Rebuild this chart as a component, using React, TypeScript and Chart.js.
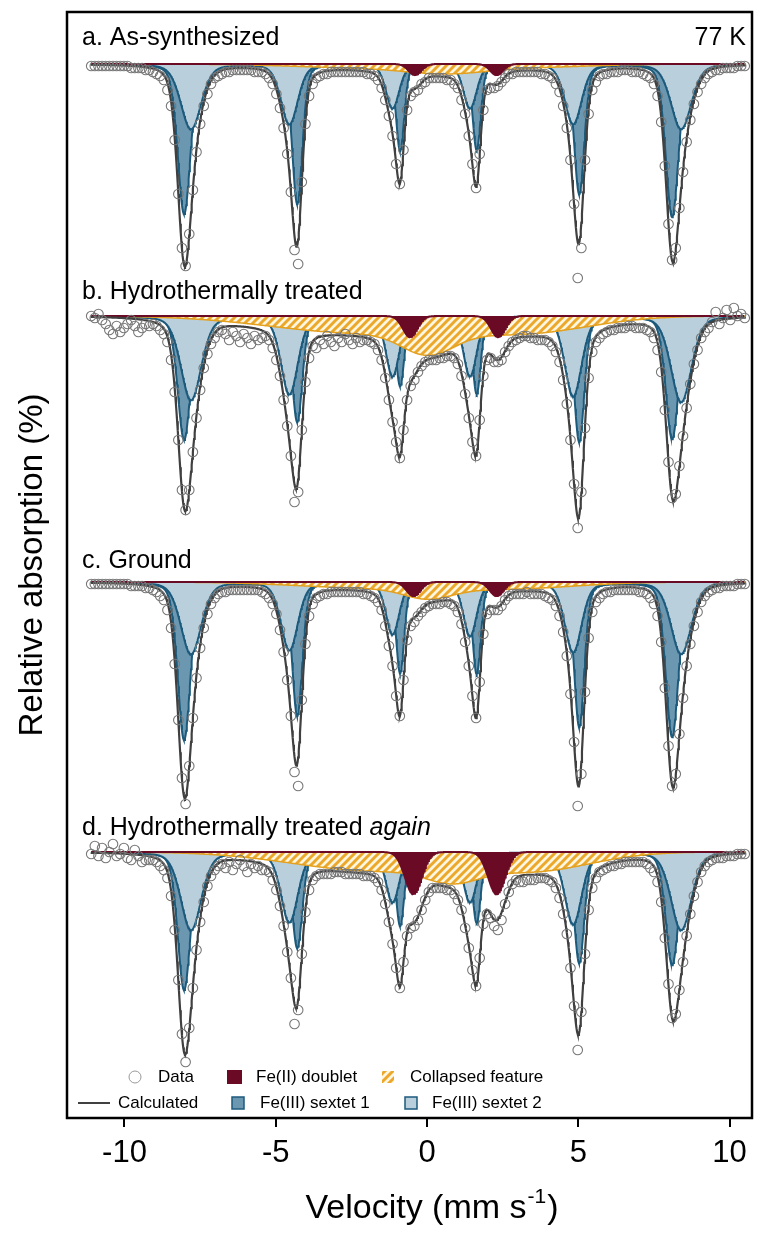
import React, { useEffect, useRef } from 'react';
import { Chart, registerables } from 'chart.js';

Chart.register(...registerables);

// ---------------- axes ----------------
const xTickValues = [-10, -5, 0, 5, 10];
const xMin = -11.9;
const xMax = 10.74;
const yMax = 2.6;
const yMin = -52.7;

// ---------------- panels ----------------
const panelNames = ['a. As-synthesized', 'b. Hydrothermally treated', 'c. Ground', 'd. Hydrothermally treated'];
const panelOffsets = [0, 12.6, 25.9, 39.4]; // vertical offset of each spectrum (%)
const temperatureLabel = '77 K';

// ---------------- measured spectra: relative absorption (0.1 % units) per channel ----------------
const channelStart = -11.1; // mm/s
const channelStep = 0.12; // mm/s per channel

const dataA = [
  1, 1, 1, 1, 1, 1, 1, 1, 1, 1, 1, 2,
  2, 2, 2, 3, 3, 4, 5, 6, 8, 13, 21, 38,
  65, 92, 101, 85, 63, 44, 30, 21, 15, 10, 7, 6,
  5, 4, 4, 3, 3, 3, 3, 3, 3, 4, 4, 4,
  5, 7, 10, 15, 22, 32, 45, 64, 93, 100, 59, 30,
  16, 10, 7, 6, 5, 5, 4, 4, 4, 4, 4, 4,
  4, 4, 4, 4, 5, 5, 6, 8, 12, 18, 26, 36,
  50, 60, 43, 23, 16, 14, 13, 10, 9, 7, 7, 7,
  7, 7, 8, 8, 10, 12, 18, 25, 36, 50, 62, 45,
  23, 13, 12, 12, 11, 9, 7, 5, 5, 4, 4, 4,
  4, 4, 4, 4, 5, 5, 6, 7, 10, 14, 21, 32,
  48, 70, 107, 92, 48, 25, 13, 9, 6, 5, 5, 4,
  4, 4, 3, 3, 3, 4, 4, 4, 5, 6, 7, 10,
  16, 29, 51, 80, 98, 92, 72, 54, 39, 28, 20, 14,
  10, 7, 5, 4, 3, 3, 2, 2, 2, 2, 1, 1,
  1,
];
const dataB = [
  0, 1, -1, 2, 4, 7, 9, 5, 8, 6, 4, 2,
  5, 8, 6, 4, 5, 4, 5, 7, 9, 13, 22, 38,
  62, 87, 97, 87, 68, 51, 37, 26, 19, 14, 11, 8,
  7, 9, 12, 8, 10, 13, 9, 11, 14, 10, 12, 11,
  10, 12, 16, 22, 30, 42, 55, 70, 93, 88, 57, 33,
  21, 15, 16, 12, 14, 10, 13, 15, 11, 13, 9, 12,
  14, 11, 13, 12, 12, 13, 14, 17, 22, 31, 42, 53,
  63, 71, 57, 42, 35, 32, 28, 25, 23, 22, 22, 22,
  21, 21, 20, 20, 21, 24, 30, 39, 51, 63, 70, 52,
  30, 22, 21, 23, 23, 22, 18, 15, 13, 12, 11, 10,
  10, 11, 11, 12, 12, 12, 13, 15, 18, 23, 32, 44,
  62, 84, 106, 88, 56, 31, 18, 13, 11, 9, 8, 7,
  7, 6, 6, 6, 5, 5, 6, 6, 6, 7, 8, 11,
  17, 28, 47, 73, 91, 89, 75, 60, 46, 34, 24, 17,
  11, 8, 6, 3, -2, 4, 1, -3, 2, -4, 0, -1,
  1,
];
const dataC = [
  1, 1, 1, 1, 1, 1, 1, 1, 1, 1, 1, 2,
  2, 2, 2, 3, 3, 4, 5, 7, 9, 14, 23, 41,
  69, 98, 111, 92, 68, 48, 33, 23, 16, 11, 8, 6,
  5, 5, 4, 4, 4, 4, 4, 4, 4, 4, 4, 5,
  6, 8, 11, 16, 24, 35, 49, 67, 95, 102, 59, 31,
  17, 11, 8, 7, 6, 6, 5, 5, 5, 5, 5, 5,
  5, 5, 5, 6, 6, 7, 8, 10, 14, 22, 32, 42,
  57, 67, 49, 29, 22, 20, 17, 15, 13, 12, 11, 11,
  11, 10, 10, 11, 12, 15, 21, 30, 42, 57, 68, 50,
  26, 16, 14, 14, 14, 12, 9, 7, 6, 6, 6, 6,
  5, 6, 6, 6, 6, 7, 8, 9, 12, 17, 25, 37,
  56, 80, 112, 96, 55, 28, 15, 10, 8, 6, 5, 5,
  4, 4, 4, 4, 4, 4, 4, 5, 5, 6, 8, 11,
  17, 30, 53, 82, 102, 96, 76, 58, 42, 31, 22, 15,
  10, 7, 5, 4, 3, 3, 2, 2, 2, 2, 1, 1,
  1,
];
const dataD = [
  1, -3, 2, -2, 3, 0, -4, 2, 1, -2, 3, 4,
  -1, 2, 5, 4, 4, 4, 5, 7, 9, 13, 22, 39,
  64, 91, 105, 88, 68, 49, 35, 25, 17, 12, 9, 7,
  6, 8, 5, 9, 6, 4, 7, 10, 6, 8, 7, 9,
  9, 10, 14, 19, 27, 37, 50, 63, 86, 79, 51, 30,
  19, 14, 12, 11, 11, 11, 11, 10, 10, 10, 11, 11,
  11, 11, 11, 12, 12, 12, 13, 15, 19, 26, 35, 46,
  58, 68, 55, 42, 38, 37, 34, 29, 24, 20, 18, 18,
  18, 18, 19, 19, 21, 24, 29, 38, 48, 59, 67, 53,
  36, 31, 33, 37, 39, 34, 26, 20, 16, 14, 15, 15,
  14, 14, 14, 13, 13, 13, 14, 15, 18, 23, 31, 41,
  58, 77, 99, 80, 51, 29, 18, 13, 10, 9, 8, 7,
  7, 6, 6, 5, 5, 5, 5, 5, 5, 6, 8, 10,
  15, 25, 43, 66, 83, 81, 69, 55, 42, 31, 22, 15,
  10, 7, 5, 4, 3, 3, 3, 2, 2, 2, 1, 1,
  1,
];

// ---------------- fitted Fe(III) sextets: line positions (mm/s), half widths, depths (%) ----------------
const sextet1Positions = [-8.03, -4.29, -0.89, 1.64, 5.03, 8.1];
const sextet2Positions = [-7.8, -4.55, -1.14, 1.42, 4.83, 8.4];
const sextet1Widths = [0.25, 0.2, 0.16, 0.16, 0.2, 0.25];
const sextet2Widths = [0.4, 0.33, 0.26, 0.26, 0.33, 0.4];
const lorentzFraction = 0.3;

const sextet1DepthA = [7.5, 7.0, 4.35, 4.3, 6.5, 7.65];
const sextet2DepthA = [3.25, 3.0, 2.2, 2.2, 3.0, 3.25];
const sextet1DepthB = [6.2, 5.3, 3.5, 3.9, 6.3, 6.15];
const sextet2DepthB = [4.2, 3.9, 3.0, 3.0, 4.0, 4.3];
const sextet1DepthC = [7.9, 6.7, 4.55, 4.6, 7.25, 7.75];
const sextet2DepthC = [3.6, 3.4, 2.6, 2.7, 3.5, 3.6];
const sextet1DepthD = [6.9, 4.8, 3.7, 3.55, 5.55, 5.65];
const sextet2DepthD = [3.9, 3.5, 2.5, 2.5, 3.6, 3.9];

// ---------------- fitted Fe(II) doublet ----------------
const doubletPosA = [-0.4, 2.3];
const doubletPosB = [-0.56, 2.35];
const doubletPosC = [-0.45, 2.3];
const doubletPosD = [-0.45, 2.3];
const doubletDepths = [0.55, 1.05, 0.7, 2.1];
const doubletWidths = [0.25, 0.28, 0.27, 0.33];

// ---------------- fitted collapsed feature (broad components) ----------------
const collapsedPosA = [0.63, -1.67, 3.33];
const collapsedDepthA = [0.3, 0.2, 0.15];
const collapsedWidthA = [1.5, 3.0, 2.5];
const collapsedPosB = [0.03, -2.17, 3.33];
const collapsedDepthB = [1.1, 0.85, 0.75];
const collapsedWidthB = [1.0, 3.5, 2.5];
const collapsedPosC = [0.03, -1.67, 2.83];
const collapsedDepthC = [0.5, 0.3, 0.3];
const collapsedWidthC = [0.9, 3.0, 2.5];
const collapsedPosD = [0.83, -1.67, 3.63];
const collapsedDepthD = [0.7, 0.95, 0.85];
const collapsedWidthD = [1.0, 3.2, 2.2];

const curveStart = -11.1;
const curveEnd = 10.5;
const curveStep = 0.02;

// ---------------- colours ----------------
const COL_S1 = '#6c97b1';
const COL_S2 = '#b9cfdc';
const COL_SEXTET_LINE = '#1c5a7c';
const COL_DOUBLET = '#6a0a25';
const COL_COLLAPSED = '#e3a11f';
const COL_CALC = '#404040';
const COL_DATA = '#777777';
const FONT = '"Liberation Sans", Arial, Helvetica, sans-serif';

const gauss = (v: number, c: number, d: number, w: number) =>
  d * Math.exp(-Math.LN2 * ((v - c) / w) * ((v - c) / w));
const pvoigt = (v: number, c: number, d: number, w: number) =>
  d * ((1 - lorentzFraction) * Math.exp(-Math.LN2 * ((v - c) / w) ** 2) + lorentzFraction * (w * w) / ((v - c) ** 2 + w * w));
const gaussSum = (v: number, pos: number[], depth: number[], width: number[]) =>
  pos.reduce((s, c, i) => s + gauss(v, c, depth[i], width[i]), 0);
const voigtSum = (v: number, pos: number[], depth: number[], width: number[]) =>
  pos.reduce((s, c, i) => s + pvoigt(v, c, depth[i], width[i]), 0);

const spectra = [
  { data: dataA, s1: sextet1DepthA, s2: sextet2DepthA, dPos: doubletPosA, cPos: collapsedPosA, cDepth: collapsedDepthA, cW: collapsedWidthA },
  { data: dataB, s1: sextet1DepthB, s2: sextet2DepthB, dPos: doubletPosB, cPos: collapsedPosB, cDepth: collapsedDepthB, cW: collapsedWidthB },
  { data: dataC, s1: sextet1DepthC, s2: sextet2DepthC, dPos: doubletPosC, cPos: collapsedPosC, cDepth: collapsedDepthC, cW: collapsedWidthC },
  { data: dataD, s1: sextet1DepthD, s2: sextet2DepthD, dPos: doubletPosD, cPos: collapsedPosD, cDepth: collapsedDepthD, cW: collapsedWidthD },
];
const s1At = (k: number, v: number) => voigtSum(v, sextet1Positions, spectra[k].s1, sextet1Widths);
const s2At = (k: number, v: number) => voigtSum(v, sextet2Positions, spectra[k].s2, sextet2Widths);
const dAt = (k: number, v: number) => gaussSum(v, spectra[k].dPos, [doubletDepths[k], doubletDepths[k]], [doubletWidths[k], doubletWidths[k]]);
const cAt = (k: number, v: number) => gaussSum(v, spectra[k].cPos, spectra[k].cDepth, spectra[k].cW);
const totalAt = (k: number, v: number) => s1At(k, v) + s2At(k, v) + dAt(k, v) + cAt(k, v);

function makeHatch(): CanvasPattern | string {
  const c = document.createElement('canvas');
  c.width = 8;
  c.height = 8;
  const g = c.getContext('2d');
  if (!g) return COL_COLLAPSED;
  g.fillStyle = '#fff7e2';
  g.fillRect(0, 0, 8, 8);
  g.strokeStyle = '#eba82a';
  g.lineWidth = 3;
  g.beginPath();
  g.moveTo(-2, 10); g.lineTo(10, -2);
  g.moveTo(-6, 6); g.lineTo(6, -6);
  g.moveTo(2, 14); g.lineTo(14, 2);
  g.stroke();
  return g.createPattern(c, 'repeat') || COL_COLLAPSED;
}

export default function App() {
  const ref = useRef<HTMLCanvasElement>(null);

  useEffect(() => {
    const canvas = ref.current;
    if (!canvas) return;
    const hatch = makeHatch();
    const fineV: number[] = [];
    for (let v = curveStart; v <= curveEnd + 1e-9; v += curveStep) fineV.push(+v.toFixed(3));

    const datasets: any[] = [];
    spectra.forEach((sp, k) => {
      const off = panelOffsets[k];
      const base = { pointRadius: 0, pointHoverRadius: 0, tension: 0, fill: { value: -off } };
      datasets.push({ ...base, label: 'Fe(III) sextet 1', data: fineV.map((v) => ({ x: v, y: -off - s1At(k, v) })), backgroundColor: COL_S1, borderColor: COL_SEXTET_LINE, borderWidth: 2, order: 5 });
      datasets.push({ ...base, label: 'Fe(III) sextet 2', data: fineV.map((v) => ({ x: v, y: -off - s2At(k, v) })), backgroundColor: COL_S2, borderColor: COL_SEXTET_LINE, borderWidth: 2, order: 4 });
      datasets.push({ ...base, label: 'Collapsed feature', data: fineV.map((v) => ({ x: v, y: -off - cAt(k, v) })), backgroundColor: hatch, borderColor: COL_COLLAPSED, borderWidth: 1.5, order: 3 });
      datasets.push({ ...base, label: 'Fe(II) doublet', data: fineV.map((v) => ({ x: v, y: -off - dAt(k, v) })), backgroundColor: COL_DOUBLET, borderColor: COL_DOUBLET, borderWidth: 2, order: 2 });
      datasets.push({ label: 'Calculated', data: fineV.map((v) => ({ x: v, y: -off - totalAt(k, v) })), borderColor: COL_CALC, borderWidth: 2.2, pointRadius: 0, fill: false, tension: 0, order: 1 });
      datasets.push({
        label: 'Data',
        data: sp.data.map((a, i) => ({ x: channelStart + i * channelStep, y: -off - a / 10 })),
        showLine: false, pointRadius: 4.8, pointBackgroundColor: 'rgba(0,0,0,0)', pointBorderColor: COL_DATA, pointBorderWidth: 1.1, order: 0,
      });
    });

    const labelLift = [19, 17, 14, 17];
    const decor = {
      id: 'decor',
      afterDraw(chart: any) {
        const { ctx, chartArea: a, scales } = chart;
        const ys = scales.y;
        ctx.save();
        ctx.strokeStyle = '#000';
        ctx.lineWidth = 2.5;
        ctx.strokeRect(a.left, a.top, a.right - a.left, a.bottom - a.top);

        ctx.fillStyle = '#000';
        ctx.textBaseline = 'alphabetic';
        ctx.textAlign = 'left';
        panelNames.forEach((name, i) => {
          const y = ys.getPixelForValue(-panelOffsets[i]) - labelLift[i];
          ctx.font = `25px ${FONT}`;
          ctx.fillText(name, a.left + 15, y);
          if (i === 3) {
            const w = ctx.measureText(name + ' ').width;
            ctx.font = `italic 25px ${FONT}`;
            ctx.fillText('again', a.left + 15 + w, y);
          }
        });
        ctx.font = `25px ${FONT}`;
        ctx.textAlign = 'right';
        ctx.fillText(temperatureLabel, a.right - 6, ys.getPixelForValue(-panelOffsets[0]) - labelLift[0]);

        // x-axis title with superscript
        ctx.textAlign = 'left';
        const t1 = 'Velocity (mm s';
        ctx.font = `34px ${FONT}`;
        const w1 = ctx.measureText(t1).width;
        const w3 = ctx.measureText(')').width;
        ctx.font = `21px ${FONT}`;
        const w2 = ctx.measureText('-1').width;
        const x0 = 432 - (w1 + w2 + w3 + 2) / 2;
        const yb = 1218;
        ctx.font = `34px ${FONT}`;
        ctx.fillText(t1, x0, yb);
        ctx.fillText(')', x0 + w1 + w2 + 2, yb);
        ctx.font = `21px ${FONT}`;
        ctx.fillText('-1', x0 + w1 + 1, yb - 15);

        // legend
        const r1 = 1077;
        const r2 = 1103;
        ctx.font = `17px ${FONT}`;
        ctx.textBaseline = 'middle';
        ctx.lineWidth = 1;
        ctx.strokeStyle = '#999';
        ctx.beginPath();
        ctx.arc(135, r1, 6, 0, Math.PI * 2);
        ctx.stroke();
        ctx.fillText('Data', 158, r1);
        ctx.fillStyle = COL_DOUBLET;
        ctx.fillRect(227, r1 - 7, 15, 14);
        ctx.fillStyle = '#000';
        ctx.fillText('Fe(II) doublet', 256, r1);
        ctx.fillStyle = hatch as any;
        ctx.fillRect(382, r1 - 6, 12, 12);
        ctx.fillStyle = '#000';
        ctx.fillText('Collapsed feature', 410, r1);
        ctx.strokeStyle = COL_CALC;
        ctx.lineWidth = 2;
        ctx.beginPath();
        ctx.moveTo(78, r2);
        ctx.lineTo(110, r2);
        ctx.stroke();
        ctx.fillText('Calculated', 118, r2);
        ctx.lineWidth = 1.5;
        ctx.strokeStyle = COL_SEXTET_LINE;
        ctx.fillStyle = COL_S1;
        ctx.fillRect(232, r2 - 6, 12, 12);
        ctx.strokeRect(232, r2 - 6, 12, 12);
        ctx.fillStyle = '#000';
        ctx.fillText('Fe(III) sextet 1', 260, r2);
        ctx.fillStyle = COL_S2;
        ctx.fillRect(405, r2 - 6, 12, 12);
        ctx.strokeRect(405, r2 - 6, 12, 12);
        ctx.fillStyle = '#000';
        ctx.fillText('Fe(III) sextet 2', 432, r2);
        ctx.restore();
      },
    };

    const chart = new Chart(canvas, {
      type: 'line',
      data: { datasets },
      options: {
        responsive: false,
        animation: false,
        devicePixelRatio: 1,
        layout: { padding: { top: 12, right: 12, left: 0, bottom: 0 } },
        plugins: { legend: { display: false }, tooltip: { enabled: false } },
        scales: {
          x: {
            type: 'linear',
            min: xMin,
            max: xMax,
            afterBuildTicks: (s: any) => { s.ticks = xTickValues.map((v) => ({ value: v })); },
            ticks: { color: '#000', font: { family: FONT, size: 31 }, padding: 8, maxRotation: 0 },
            grid: { drawOnChartArea: false, tickLength: 9, color: '#000', lineWidth: 2 },
            border: { display: false },
            afterFit: (s: any) => { s.height = 116; },
          },
          y: {
            type: 'linear',
            min: yMin,
            max: yMax,
            ticks: { display: false },
            grid: { display: false },
            border: { display: false },
            title: { display: true, text: 'Relative absorption (%)', color: '#000', font: { family: FONT, size: 33 }, padding: { top: 13, bottom: 0 } },
            afterFit: (s: any) => { s.width = 67; },
          },
        },
      },
      plugins: [decor],
    });
    return () => chart.destroy();
  }, []);

  return (
    <div style={{ position: 'absolute', left: 0, top: 0, width: 764, height: 1234, background: '#fff' }}>
      <canvas ref={ref} width={764} height={1234} style={{ display: 'block', width: 764, height: 1234 }} />
    </div>
  );
}
